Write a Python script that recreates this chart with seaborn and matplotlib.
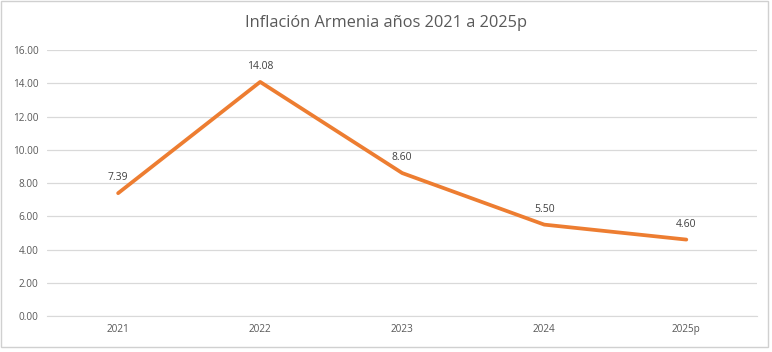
import matplotlib
matplotlib.use("Agg")
import matplotlib.pyplot as plt
import seaborn as sns
import pandas as pd

# chart data
years = ["2021", "2022", "2023", "2024", "2025p"]
inflation = [7.39, 14.08, 8.60, 5.50, 4.60]
y_ticks = [0, 2, 4, 6, 8, 10, 12, 14, 16]

df = pd.DataFrame({"year": years, "inflation": inflation})

sns.set_style("white")
plt.rcParams["font.family"] = ["Open Sans", "DejaVu Sans"]

fig = plt.figure(figsize=(7.72, 3.52), dpi=100)
fig.patch.set_facecolor("white")
ax = fig.add_axes([0.061, 0.102, 0.92, 0.756])

sns.lineplot(data=df, x="year", y="inflation", ax=ax, color="#ED7D31",
             linewidth=2.7, sort=False)

for i, v in enumerate(inflation):
    ax.annotate(f"{v:.2f}", (i, v), xytext=(0, 7), textcoords="offset points",
                ha="center", va="bottom", fontsize=7.5, color="#404040")

ax.set_xlim(-0.5, len(years) - 0.5)
ax.set_ylim(0, 16)
ax.set_yticks(y_ticks)
ax.set_yticklabels([f"{t:.2f}" for t in y_ticks])
ax.grid(axis="y", color="#D9D9D9", linewidth=0.9)
ax.set_axisbelow(True)
for s in ["top", "right", "left"]:
    ax.spines[s].set_visible(False)
ax.spines["bottom"].set_color("#D9D9D9")
ax.tick_params(axis="both", length=0, labelsize=7.2, colors="#595959", pad=6)
ax.set_xlabel("")
ax.set_ylabel("")

fig.text(0.5, 0.935, "Inflación Armenia años 2021 a 2025p", ha="center",
         va="center", fontsize=11.8, color="#595959")

# light chart border
border = plt.Rectangle((1 / 772, 5 / 352), 767 / 772, 346 / 352,
                       transform=fig.transFigure, fill=False,
                       edgecolor="#D0D0D0", linewidth=1)
fig.patches.append(border)

fig.savefig("out.png", dpi=100)
